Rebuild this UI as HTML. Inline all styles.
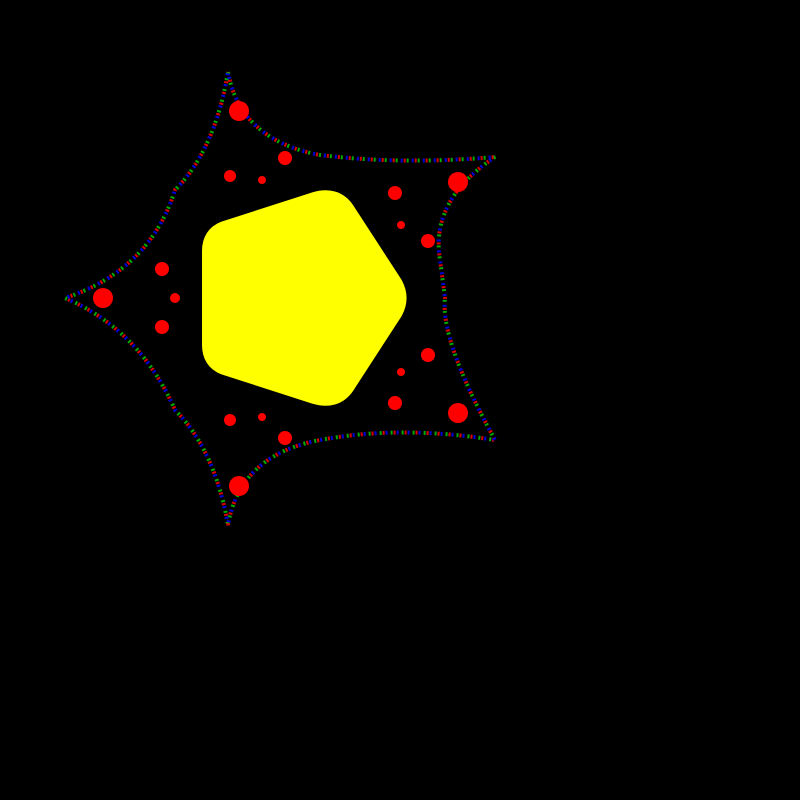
<!DOCTYPE html>
<html><head><meta charset="utf-8"><style>html,body{margin:0;padding:0;background:#000;width:800px;height:800px;overflow:hidden}</style></head>
<body>
<svg width="800" height="800" viewBox="0 0 800 800" xmlns="http://www.w3.org/2000/svg">
<rect width="800" height="800" fill="#000"/>
<g fill="none" stroke-width="4">
<path d="M228,72 Q240,140 320,155 Q400,165 495,157 Q430,200 440,260 L445,298 Q440,340 495,440 Q400,425 320,440 Q240,455 228,525 Q215,450 175,410 Q140,330 65,298 Q150,270 175,190 Q215,150 228,72" stroke="#0a0" stroke-dasharray="2 9"/>
<path d="M228,72 Q240,140 320,155 Q400,165 495,157 Q430,200 440,260 L445,298 Q440,340 495,440 Q400,425 320,440 Q240,455 228,525 Q215,450 175,410 Q140,330 65,298 Q150,270 175,190 Q215,150 228,72" stroke="#d00" stroke-dasharray="2 9" stroke-dashoffset="3"/>
<path d="M228,72 Q240,140 320,155 Q400,165 495,157 Q430,200 440,260 L445,298 Q440,340 495,440 Q400,425 320,440 Q240,455 228,525 Q215,450 175,410 Q140,330 65,298 Q150,270 175,190 Q215,150 228,72" stroke="#00d" stroke-dasharray="2 9" stroke-dashoffset="6"/>
</g>
<path d="M393,285 Q400,298 393,311 L345,385 Q335,400 315,394 L225,365 Q212,360 212,345 L212,251 Q212,236 225,231 L315,202 Q335,196 345,211 Z" fill="#ff0" stroke="#ff0" stroke-width="20" stroke-linejoin="round"/>
<g fill="#f00">
<circle cx="239" cy="111" r="10"/><circle cx="285" cy="158" r="7"/><circle cx="230" cy="176" r="6"/><circle cx="262" cy="180" r="4"/>
<circle cx="458" cy="182" r="10"/><circle cx="395" cy="193" r="7"/><circle cx="428" cy="241" r="7"/><circle cx="401" cy="225" r="4"/>
<circle cx="103" cy="298" r="10"/><circle cx="162" cy="269" r="7"/><circle cx="162" cy="327" r="7"/><circle cx="175" cy="298" r="5"/>
<circle cx="428" cy="355" r="7"/><circle cx="395" cy="403" r="7"/><circle cx="458" cy="413" r="10"/><circle cx="401" cy="372" r="4"/>
<circle cx="230" cy="420" r="6"/><circle cx="285" cy="438" r="7"/><circle cx="262" cy="417" r="4"/><circle cx="239" cy="486" r="10"/>
</g>
</svg>
</body></html>
